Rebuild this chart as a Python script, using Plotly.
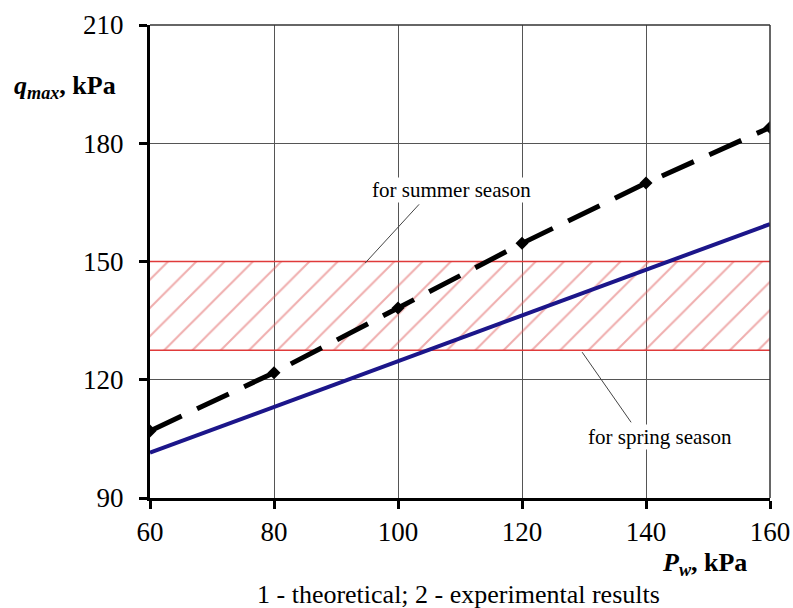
import plotly.graph_objects as go

# Data
p_w = [60, 80, 100, 120, 140, 160]
q_experimental = [107.0, 121.8, 138.2, 154.6, 169.9, 184.0]
theory_x = [60, 160]
q_theoretical = [101.5, 159.5]
band_x = [60, 160]
band_low = 127.5
band_high = 150.0

summer_leader_x = [94.7, 103.4]
summer_leader_y = [149.6, 164.5]
spring_leader_x = [129.7, 137.6]
spring_leader_y = [127.0, 109.2]

x_ticks = [60, 80, 100, 120, 140, 160]
y_ticks = [90, 120, 150, 180, 210]

FONT = "Liberation Serif, Times New Roman, serif"

fig = go.Figure()

# hatched band
fig.add_trace(go.Scatter(
    x=[band_x[0], band_x[1], band_x[1], band_x[0], band_x[0]],
    y=[band_low, band_low, band_high, band_high, band_low],
    fill="toself", mode="none",
    fillcolor="rgba(0,0,0,0)",
    fillpattern=dict(shape="/", fgcolor="#e05c5c", bgcolor="rgba(0,0,0,0)",
                     size=20, solidity=0.1),
    hoverinfo="skip", showlegend=False))

for yv in (band_low, band_high):
    fig.add_trace(go.Scatter(x=band_x, y=[yv, yv], mode="lines",
                             line=dict(color="#e03a3a", width=1.5),
                             hoverinfo="skip", showlegend=False))

# leader lines
fig.add_trace(go.Scatter(x=summer_leader_x, y=summer_leader_y, mode="lines",
                         line=dict(color="#444444", width=1), showlegend=False))
fig.add_trace(go.Scatter(x=spring_leader_x, y=spring_leader_y, mode="lines",
                         line=dict(color="#444444", width=1), showlegend=False))

# theoretical
fig.add_trace(go.Scatter(x=theory_x, y=q_theoretical, mode="lines",
                         line=dict(color="#1c168a", width=4), showlegend=False))

# experimental
fig.add_trace(go.Scatter(x=p_w, y=q_experimental, mode="lines+markers",
                         line=dict(color="black", width=5, dash="35px,17px"),
                         marker=dict(symbol="diamond", size=10, color="black"),
                         showlegend=False))

fig.add_annotation(x=108.7, y=168.2, text="for summer season", showarrow=False,
                   font=dict(family=FONT, size=21, color="black"),
                   bgcolor="white", borderpad=0)
fig.add_annotation(x=142.3, y=105.4, text="for spring season", showarrow=False,
                   font=dict(family=FONT, size=21, color="black"),
                   bgcolor="white", borderpad=0)

fig.add_annotation(xref="paper", yref="paper", x=-0.222, y=0.869,
                   xanchor="left", yanchor="middle", showarrow=False,
                   text="<b><i>q</i><sub><i>max</i></sub>, kPa</b>",
                   font=dict(family=FONT, size=26, color="black"))
fig.add_annotation(xref="paper", yref="paper", x=0.966, y=-0.14,
                   xanchor="right", yanchor="middle", showarrow=False,
                   text="<b><i>P</i><sub><i>w</i></sub>, kPa</b>",
                   font=dict(family=FONT, size=26, color="black"))
fig.add_annotation(xref="paper", yref="paper", x=0.497, y=-0.203,
                   xanchor="center", yanchor="middle", showarrow=False,
                   text="1 - theoretical; 2 - experimental results",
                   font=dict(family=FONT, size=26, color="black"))

axis_common = dict(showgrid=True, gridcolor="#555555", gridwidth=1,
                   showline=True, linecolor="black", linewidth=3,
                   ticks="outside", ticklen=8, tickwidth=3, tickcolor="black",
                   tickfont=dict(family=FONT, size=27, color="black"),
                   zeroline=False, mirror=False, automargin=False)

fig.update_xaxes(range=[60, 160], tickvals=x_ticks, **axis_common)
fig.update_yaxes(range=[90, 210], tickvals=y_ticks, ticklabelstandoff=10,
                 **axis_common)

# thin top and right borders
fig.add_shape(type="line", xref="paper", yref="paper", x0=0, x1=1, y0=1, y1=1,
              line=dict(color="#333333", width=1.5))
fig.add_shape(type="line", xref="paper", yref="paper", x0=1, x1=1, y0=0, y1=1,
              line=dict(color="#333333", width=1.5))

fig.update_layout(width=793, height=608,
                  margin=dict(l=150, r=23, t=25, b=110),
                  plot_bgcolor="white", paper_bgcolor="white",
                  showlegend=False)

fig.write_html("out.html",
               config={"displayModeBar": False},
               post_script="document.body.style.margin='0';"
                           "document.body.style.overflow='hidden';")
